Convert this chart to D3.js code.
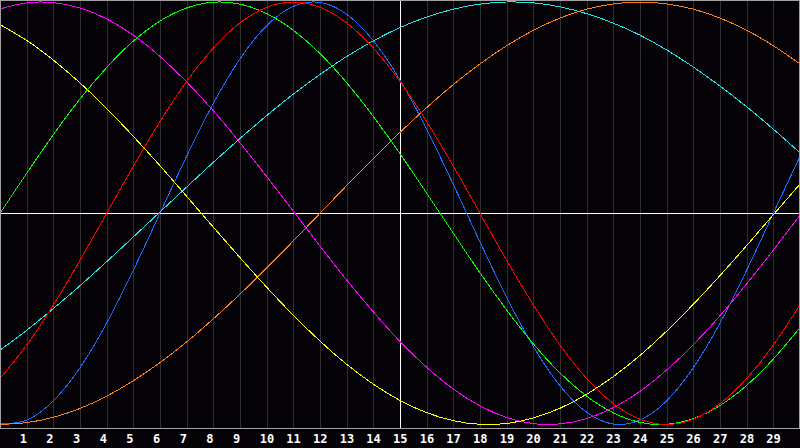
<!DOCTYPE html>
<html>
<head>
<meta charset="utf-8">
<script src="https://cdn.jsdelivr.net/npm/d3@7"></script>
<style>
  body { margin: 0; background: #050308; }
  svg { display: block; }
</style>
</head>
<body>
<script>
// day labels along the bottom
let dayLabels = [1, 2, 3, 4, 5, 6, 7, 8, 9, 10, 11, 12, 13, 14, 15, 16, 17, 18, 19, 20, 21, 22, 23, 24, 25, 26, 27, 28, 29]
let todayDay = 15

// one value per day, day 0 .. day 30 (-1 .. 1)
let physical = [-0.998, -0.979, -0.888, -0.731, -0.520, -0.270, 0, 0.270, 0.520, 0.731, 0.888, 0.979, 0.998, 0.942, 0.817, 0.631, 0.398, 0.136, -0.136, -0.398, -0.631, -0.817, -0.942, -0.998, -0.979, -0.888, -0.731, -0.520, -0.270, 0, 0.270]
let emotional = [-0.782, -0.624, -0.434, -0.223, 0, 0.223, 0.434, 0.624, 0.782, 0.901, 0.975, 1, 0.975, 0.901, 0.782, 0.624, 0.434, 0.223, 0, -0.223, -0.434, -0.624, -0.782, -0.901, -0.975, -1, -0.975, -0.901, -0.782, -0.624, -0.434]
let intellectual = [0, 0.189, 0.372, 0.541, 0.690, 0.815, 0.910, 0.972, 0.999, 0.990, 0.945, 0.866, 0.756, 0.618, 0.458, 0.282, 0.095, -0.095, -0.282, -0.458, -0.618, -0.756, -0.866, -0.945, -0.990, -0.999, -0.972, -0.910, -0.815, -0.690, -0.541]
let intuitive = [0.967, 0.996, 0.997, 0.972, 0.920, 0.843, 0.742, 0.622, 0.485, 0.334, 0.174, 0.010, -0.155, -0.316, -0.467, -0.607, -0.729, -0.832, -0.912, -0.967, -0.996, -0.997, -0.972, -0.920, -0.843, -0.742, -0.622, -0.485, -0.334, -0.174, -0.010]
let aesthetic = [0.893, 0.818, 0.725, 0.617, 0.496, 0.364, 0.225, 0.080, -0.066, -0.210, -0.350, -0.483, -0.605, -0.715, -0.809, -0.886, -0.944, -0.982, -0.999, -0.995, -0.969, -0.923, -0.857, -0.773, -0.673, -0.558, -0.431, -0.295, -0.153, -0.007, 0.138]
let awareness = [-1, -0.991, -0.966, -0.924, -0.866, -0.793, -0.707, -0.609, -0.5, -0.383, -0.259, -0.131, 0, 0.131, 0.259, 0.383, 0.5, 0.609, 0.707, 0.793, 0.866, 0.924, 0.966, 0.991, 1, 0.991, 0.966, 0.924, 0.866, 0.793, 0.707]
let spiritual = [-0.648, -0.554, -0.451, -0.343, -0.229, -0.112, 0.006, 0.124, 0.241, 0.354, 0.462, 0.564, 0.657, 0.742, 0.816, 0.879, 0.929, 0.966, 0.990, 1.000, 0.996, 0.977, 0.945, 0.900, 0.843, 0.773, 0.692, 0.602, 0.504, 0.398, 0.286]

let width = 800
let height = 448

let svg = d3.select('body').append('svg')
  .attr('width', width)
  .attr('height', height)

svg.append('rect')
  .attr('width', width)
  .attr('height', height)
  .attr('fill', '#050308')

let x = d3.scaleLinear().domain([0, 30]).range([0, width])
let y = d3.scaleLinear().domain([-1, 1]).range([424.5, 2])
let axisY = 428

// vertical day lines
svg.append('g')
  .selectAll('line')
  .data(dayLabels)
  .enter()
  .append('line')
  .attr('x1', d => Math.round(x(d)) + 0.5)
  .attr('x2', d => Math.round(x(d)) + 0.5)
  .attr('y1', 0)
  .attr('y2', axisY)
  .attr('stroke', d => d === todayDay ? '#ffffff' : '#303030')
  .attr('shape-rendering', 'crispEdges')

// zero line
svg.append('line')
  .attr('x1', 0)
  .attr('x2', width)
  .attr('y1', Math.round(y(0)) + 0.5)
  .attr('y2', Math.round(y(0)) + 0.5)
  .attr('stroke', '#ffffff')
  .attr('shape-rendering', 'crispEdges')

// curves
let series = [
  { name: 'physical', values: physical, color: '#1a6cff' },
  { name: 'awareness', values: awareness, color: '#ff8010' },
  { name: 'spiritual', values: spiritual, color: '#22e6e6' },
  { name: 'intuitive', values: intuitive, color: '#ff00ff' },
  { name: 'aesthetic', values: aesthetic, color: '#ffff00' },
  { name: 'intellectual', values: intellectual, color: '#00ff00' },
  { name: 'emotional', values: emotional, color: '#ff0000' }
]

let line = d3.line()
  .x((v, i) => x(i))
  .y(v => y(v))
  .curve(d3.curveNatural)

svg.append('g')
  .selectAll('path')
  .data(series)
  .enter()
  .append('path')
  .attr('d', s => line(s.values))
  .attr('fill', 'none')
  .attr('stroke', s => s.color)
  .attr('stroke-width', 1)
  .attr('shape-rendering', 'crispEdges')

// frame and axis line
svg.append('rect')
  .attr('x', 0.5)
  .attr('y', 0.5)
  .attr('width', width - 1)
  .attr('height', axisY)
  .attr('fill', 'none')
  .attr('stroke', '#a0a0a0')
  .attr('shape-rendering', 'crispEdges')

// day labels
svg.append('g')
  .selectAll('text')
  .data(dayLabels)
  .enter()
  .append('text')
  .attr('x', d => x(d) - 7)
  .attr('y', 443)
  .attr('fill', '#ffffff')
  .style('font-family', '"DejaVu Sans Mono", monospace')
  .style('font-weight', 'bold')
  .style('font-size', '12px')
  .text(d => d)
</script>
</body>
</html>
